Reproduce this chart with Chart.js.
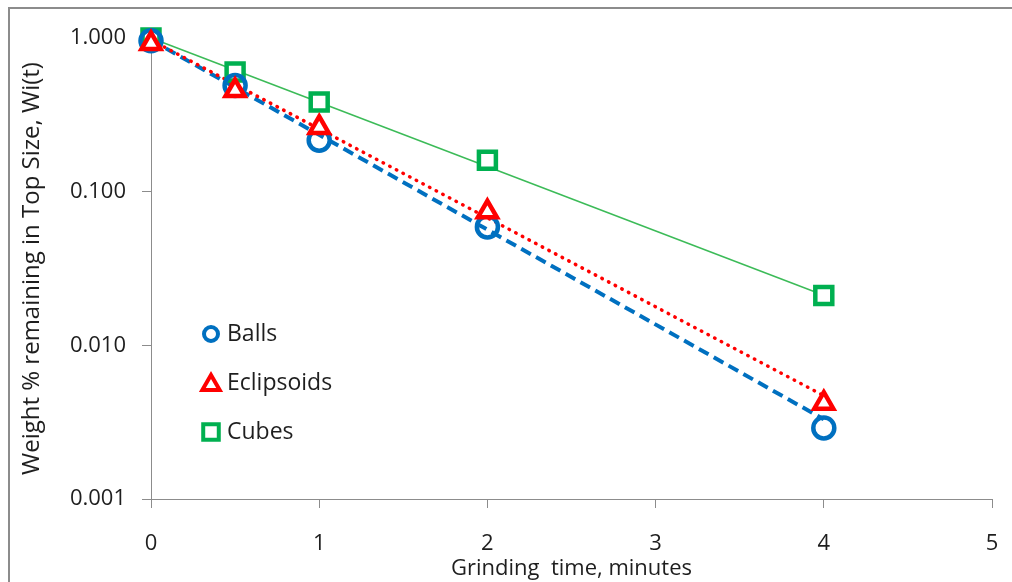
<!DOCTYPE html>
<html>
<head>
<meta charset="utf-8">
<script src="https://cdn.jsdelivr.net/npm/chart.js@4.4.1/dist/chart.umd.min.js"></script>
<style>
  body { margin: 0; background: #fff; overflow: hidden; }
  #quadro { position: relative; width: 1012px; height: 582px; overflow: hidden; }
  #moldura { position: absolute; left: 8px; top: 7px; right: -10px; bottom: -10px;
             border-left: 2px solid #8c8c8c; border-top: 2px solid #8c8c8c; }
  canvas { position: absolute; left: 0; top: 0; }
</style>
</head>
<body>
<div id="quadro">
  <div id="moldura"></div>
  <canvas id="grafico" width="1012" height="582"></canvas>
</div>
<script>
// tempos de moagem (min) e fracao que ficou no tamanho de topo
const tempos = [0, 0.5, 1, 2, 4];
const bolas = [0.96, 0.49, 0.216, 0.059, 0.0029];
const elipsoides = [0.92, 0.455, 0.262, 0.074, 0.0042];
const cubos = [1.0, 0.60, 0.383, 0.160, 0.0211];

// linhas de tendencia (exponenciais), pontas
const tendTempos = [0, 4];
const tendBolas = [0.97, 0.0033];
const tendElipsoides = [0.97, 0.0047];
const tendCubos = [1.0, 0.0212];

const rotulos = ['Balls', 'Eclipsoids', 'Cubes'];
const ticksX = [0, 1, 2, 3, 4, 5];
const ticksY = [0.001, 0.01, 0.1, 1];

const fonte = 'Open Sans';
const corTexto = '#1e1e1e';
const corEixo = '#8c8c8c';

function pares(xs, ys) {
    let r = [];
    for (let i = 0; i < xs.length; i++) {
        r.push({ x: xs[i], y: ys[i] });
    }
    return r;
}

// legenda desenhada dentro da area do grafico
const legendaDentro = {
    id: 'legendaDentro',
    afterDraw(chart) {
        const ctx = chart.ctx;
        const area = chart.chartArea;
        let x = area.left + 60;
        let y = area.top + 296;
        ctx.save();
        chart.data.datasets.filter(d => d.legenda).forEach(d => {
            ctx.strokeStyle = d.borderColor;
            ctx.fillStyle = d.backgroundColor;
            ctx.lineWidth = d.legenda.borda;
            Chart.helpers.drawPoint(ctx, {
                pointStyle: d.pointStyle,
                radius: d.legenda.raio,
                borderWidth: d.legenda.borda,
                rotation: 0
            }, x, y + d.legenda.dy);
            ctx.fillStyle = corTexto;
            ctx.font = '23px "' + fonte + '"';
            ctx.textBaseline = 'middle';
            ctx.textAlign = 'left';
            ctx.fillText(d.label, x + 16, y);
            y += 49;
        });
        ctx.restore();
    }
};

const ctx = document.getElementById('grafico');
new Chart(ctx, {
    type: 'scatter',
    data: {
        datasets: [
            {
                label: rotulos[0],
                data: pares(tempos, bolas),
                showLine: false,
                pointStyle: 'circle',
                pointRadius: 10.5,
                pointBorderWidth: 4.5,
                borderColor: '#0070C0',
                backgroundColor: 'rgba(255,255,255,0)',
                legenda: { raio: 7, borda: 4, dy: 0 },
                clip: false,
                order: 2
            },
            {
                label: rotulos[1],
                data: pares(tempos, elipsoides),
                showLine: false,
                pointStyle: 'triangle',
                pointRadius: 11,
                pointBorderWidth: 4.5,
                borderColor: '#FF0000',
                backgroundColor: '#ffffff',
                legenda: { raio: 10, borda: 4, dy: 2 },
                clip: false,
                order: 1
            },
            {
                label: rotulos[2],
                data: pares(tempos, cubos),
                showLine: false,
                pointStyle: 'rect',
                pointRadius: 12,
                pointBorderWidth: 4.5,
                borderColor: '#00B050',
                backgroundColor: '#ffffff',
                legenda: { raio: 11, borda: 4, dy: 0 },
                clip: false,
                order: 3
            },
            {
                label: 'tend Balls',
                data: pares(tendTempos, tendBolas),
                showLine: true,
                pointRadius: 0,
                borderColor: '#0070C0',
                borderWidth: 4,
                borderDash: [11, 6],
                clip: false,
                order: 5
            },
            {
                label: 'tend Eclipsoids',
                data: pares(tendTempos, tendElipsoides),
                showLine: true,
                pointRadius: 0,
                borderColor: '#FF0000',
                borderWidth: 3.5,
                borderDash: [0.5, 7],
                borderCapStyle: 'round',
                clip: false,
                order: 4
            },
            {
                label: 'tend Cubes',
                data: pares(tendTempos, tendCubos),
                showLine: true,
                pointRadius: 0,
                borderColor: '#3cbb58',
                borderWidth: 1.5,
                clip: false,
                order: 6
            }
        ]
    },
    options: {
        responsive: false,
        animation: false,
        events: [],
        layout: { padding: { top: 38, right: 20, left: 0, bottom: 0 } },
        plugins: {
            legend: { display: false },
            tooltip: { enabled: false }
        },
        scales: {
            x: {
                type: 'linear',
                min: 0,
                max: 5,
                afterBuildTicks: (s) => { s.ticks = ticksX.map(v => ({ value: v })); },
                afterFit: (s) => {
                    s.height = 83;
                    s.paddingLeft = 0;
                    s.paddingRight = 7;
                },
                grid: { drawOnChartArea: false, tickLength: 9, color: corEixo },
                border: { color: corEixo, width: 1 },
                ticks: {
                    color: corTexto,
                    padding: 23,
                    font: { family: fonte, size: 22 }
                },
                title: {
                    display: true,
                    text: 'Grinding  time, minutes',
                    color: corTexto,
                    padding: { top: 0, bottom: 0 },
                    font: { family: fonte, size: 22 }
                }
            },
            y: {
                type: 'logarithmic',
                min: 0.001,
                max: 1,
                afterBuildTicks: (s) => { s.ticks = ticksY.map(v => ({ value: v })); },
                afterFit: (s) => { s.width = 151; },
                grid: { drawOnChartArea: false, tickLength: 9, color: corEixo },
                border: { color: corEixo, width: 1 },
                ticks: {
                    color: corTexto,
                    padding: 16,
                    font: { family: fonte, size: 22 },
                    callback: (v) => Number(v).toFixed(3)
                },
                title: {
                    display: true,
                    text: 'Weight % remaining in Top Size, Wi(t)',
                    color: corTexto,
                    padding: { top: 18, bottom: 0 },
                    font: { family: fonte, size: 24 }
                }
            }
        }
    },
    plugins: [legendaDentro]
});
</script>
</body>
</html>
